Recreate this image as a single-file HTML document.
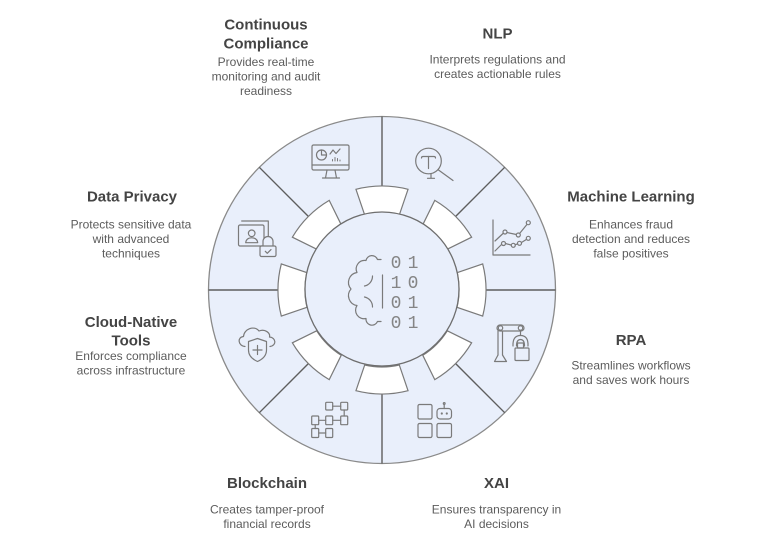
<!DOCTYPE html>
<html>
<head>
<meta charset="utf-8">
<style>
  html, body { margin:0; padding:0; background:#ffffff; }
  body { width:776px; height:548px; overflow:hidden; }
  svg { display:block; }
  .t { font-family:"Liberation Sans", Arial, sans-serif; font-weight:bold; font-size:15px; fill:#444444; }
  .d { font-family:"Liberation Sans", Arial, sans-serif; font-size:12px; fill:#5c5c5c; }
  .ic { fill:none; stroke:#7a7a7a; stroke-width:1.2; stroke-linecap:round; stroke-linejoin:round; }
  .dg { font-family:"Liberation Mono", "DejaVu Sans Mono", monospace; font-size:18px; fill:#858585; }
</style>
</head>
<body>
<svg width="776" height="548" viewBox="0 0 776 548" xmlns="http://www.w3.org/2000/svg">
  <!-- outer disc -->
  <circle cx="382" cy="290" r="173.5" fill="#e9effb" stroke="#8a8a8a" stroke-width="1.3"/>

  <!-- dividers -->
  <g stroke="#5e5e5e" stroke-width="1.4">
    <line x1="382" y1="186" x2="382" y2="116.5" transform="rotate(0 382 290)"/>
    <line x1="382" y1="186" x2="382" y2="116.5" transform="rotate(45 382 290)"/>
    <line x1="382" y1="186" x2="382" y2="116.5" transform="rotate(90 382 290)"/>
    <line x1="382" y1="186" x2="382" y2="116.5" transform="rotate(135 382 290)"/>
    <line x1="382" y1="186" x2="382" y2="116.5" transform="rotate(180 382 290)"/>
    <line x1="382" y1="186" x2="382" y2="116.5" transform="rotate(225 382 290)"/>
    <line x1="382" y1="186" x2="382" y2="116.5" transform="rotate(270 382 290)"/>
    <line x1="382" y1="186" x2="382" y2="116.5" transform="rotate(315 382 290)"/>
  </g>

  <!-- white tabs -->
  <g fill="#ffffff" stroke="#7a7a7a" stroke-width="1.2">
    <path d="M364.68 214.97 L355.96 189.31 A104 104 0 0 1 408.04 189.31 L399.32 214.97 A77 77 0 0 0 364.68 214.97 Z" transform="rotate(0 382 290)"/>
    <path d="M364.68 214.97 L355.96 189.31 A104 104 0 0 1 408.04 189.31 L399.32 214.97 A77 77 0 0 0 364.68 214.97 Z" transform="rotate(45 382 290)"/>
    <path d="M364.68 214.97 L355.96 189.31 A104 104 0 0 1 408.04 189.31 L399.32 214.97 A77 77 0 0 0 364.68 214.97 Z" transform="rotate(90 382 290)"/>
    <path d="M364.68 214.97 L355.96 189.31 A104 104 0 0 1 408.04 189.31 L399.32 214.97 A77 77 0 0 0 364.68 214.97 Z" transform="rotate(135 382 290)"/>
    <path d="M364.68 214.97 L355.96 189.31 A104 104 0 0 1 408.04 189.31 L399.32 214.97 A77 77 0 0 0 364.68 214.97 Z" transform="rotate(180 382 290)"/>
    <path d="M364.68 214.97 L355.96 189.31 A104 104 0 0 1 408.04 189.31 L399.32 214.97 A77 77 0 0 0 364.68 214.97 Z" transform="rotate(225 382 290)"/>
    <path d="M364.68 214.97 L355.96 189.31 A104 104 0 0 1 408.04 189.31 L399.32 214.97 A77 77 0 0 0 364.68 214.97 Z" transform="rotate(270 382 290)"/>
    <path d="M364.68 214.97 L355.96 189.31 A104 104 0 0 1 408.04 189.31 L399.32 214.97 A77 77 0 0 0 364.68 214.97 Z" transform="rotate(315 382 290)"/>
  </g>

  <!-- inner disc -->
  <circle cx="382" cy="289" r="77" fill="#e9effb" stroke="#6e6e6e" stroke-width="1.3"/>

  <!-- brain icon -->
  <g class="ic" stroke="#858585" stroke-width="1.3">
    <path d="M381 259.5 H377.5 A6 6 0 0 0 366 260.5 A8.5 8.5 0 0 0 357 272.5 A10 10 0 0 0 351 289 A10 10 0 0 0 357 305.5 A8.5 8.5 0 0 0 366 318.5 A6 6 0 0 0 377.5 321.5 H381"/>
    <path d="M372.5 276 A10 10 0 0 1 364.5 286"/>
    <path d="M364.5 297 A10 10 0 0 1 372.5 307"/>
    <line x1="382.5" y1="275" x2="382.5" y2="308"/>
  </g>
  <text class="dg" x="396" y="268" text-anchor="middle">0</text>
  <text class="dg" x="413" y="268" text-anchor="middle">1</text>
  <text class="dg" x="396" y="288" text-anchor="middle">1</text>
  <text class="dg" x="413" y="288" text-anchor="middle">0</text>
  <text class="dg" x="396" y="308" text-anchor="middle">0</text>
  <text class="dg" x="413" y="308" text-anchor="middle">1</text>
  <text class="dg" x="396" y="328" text-anchor="middle">0</text>
  <text class="dg" x="413" y="328" text-anchor="middle">1</text>

  <!-- Continuous Compliance icon: monitor -->
  <g class="ic">
    <rect x="312" y="145" width="37" height="25" rx="1.5"/>
    <line x1="312" y1="165" x2="349" y2="165"/>
    <path d="M327 170 L325.5 178 M335 170 L336.5 178 M322.5 178 H339.5"/>
    <circle cx="321.5" cy="155" r="5"/>
    <path d="M321.5 150 V155 H326.5"/>
    <path d="M330 154 L333 150 L336 153.5 L340 149"/>
    <path d="M332.5 161 V159.5 M335 161 V157.5 M337.5 161 V158.5 M340 161 V160" stroke-width="1"/>
  </g>

  <!-- NLP icon: magnifier with T -->
  <g class="ic">
    <circle cx="428.5" cy="161" r="12.8"/>
    <path d="M421.5 158 Q421.5 156.5 423 156.5 H434 Q435.5 156.5 435.5 158"/>
    <line x1="428.5" y1="156.5" x2="428.5" y2="168.5"/>
    <line x1="438.5" y1="170" x2="453" y2="180.5"/>
    <path d="M431 174 V178.3 M427.5 178.3 H434.5"/>
  </g>

  <!-- Machine Learning icon: line chart -->
  <g class="ic">
    <path d="M493 220 V255 H530"/>
    <path d="M495 241 L503 233.5 M507 232.5 L516.3 234.5 M520 233 L526.8 224.6"/>
    <circle cx="505" cy="232" r="2"/>
    <circle cx="518.3" cy="235" r="2"/>
    <circle cx="528.3" cy="222.7" r="2"/>
    <path d="M495 251 L501.5 244.5 M505.5 243.5 L511 245 M515 244.7 L517.5 244 M521.5 242.5 L526.3 239.5"/>
    <circle cx="503.5" cy="243.5" r="2"/>
    <circle cx="513.3" cy="245.3" r="2"/>
    <circle cx="519.5" cy="243.3" r="2"/>
    <circle cx="528.3" cy="238.3" r="2"/>
  </g>

  <!-- RPA icon: robotic arm -->
  <g class="ic">
    <path d="M498 331 V355 M502.5 331 V355"/>
    <path d="M498 355 L494.5 361.5 H506.5 L502.5 355"/>
    <rect x="497" y="325" width="27" height="6" rx="3"/>
    <circle cx="500.5" cy="328" r="2.2"/>
    <circle cx="520.5" cy="328" r="2.2"/>
    <path d="M520.5 331 V335"/>
    <path d="M513 346 Q512.5 335.5 520.5 335.5 Q528.5 335.5 528 346"/>
    <path d="M516.5 346 Q516.5 339.5 520.5 339.5 Q524.5 339.5 524.5 346"/>
    <rect x="517.5" y="343" width="6" height="5"/>
    <rect x="515" y="348" width="14" height="12.5" rx="1"/>
  </g>

  <!-- XAI icon: squares with robot -->
  <g class="ic">
    <rect x="418" y="404.5" width="14" height="14.5" rx="1.5"/>
    <rect x="437" y="408.5" width="14.5" height="10.5" rx="3"/>
    <path d="M444.2 408.5 V404.5"/>
    <circle cx="444.2" cy="403.5" r="0.9"/>
    <circle cx="441.8" cy="413.5" r="0.5" fill="#7a7a7a"/>
    <circle cx="446.8" cy="413.5" r="0.5" fill="#7a7a7a"/>
    <rect x="418" y="423.5" width="14" height="14" rx="1.5"/>
    <rect x="437" y="423.5" width="14.5" height="14" rx="1.5"/>
  </g>

  <!-- Blockchain icon: flow grid -->
  <g class="ic">
    <rect x="325.7" y="402.3" width="7" height="7.7" rx="1"/>
    <rect x="340.7" y="402.3" width="7" height="7.7" rx="1"/>
    <line x1="332.7" y1="406.2" x2="340.7" y2="406.2"/>
    <line x1="344.2" y1="410" x2="344.2" y2="416"/>
    <rect x="311.7" y="416" width="7" height="8.7" rx="1"/>
    <rect x="325.7" y="416" width="7" height="8.7" rx="1"/>
    <rect x="340.7" y="416" width="7" height="8.7" rx="1"/>
    <line x1="318.7" y1="420.3" x2="325.7" y2="420.3"/>
    <line x1="332.7" y1="420.3" x2="340.7" y2="420.3"/>
    <line x1="315.2" y1="424.7" x2="315.2" y2="428.5"/>
    <rect x="311.7" y="428.5" width="7" height="9" rx="1"/>
    <rect x="325.7" y="428.5" width="7" height="9" rx="1"/>
    <line x1="318.7" y1="433" x2="325.7" y2="433"/>
  </g>

  <!-- Cloud-Native Tools icon: cloud with shield -->
  <g class="ic">
    <path d="M245 346.5 C238 346 237 337 243.5 336.5 C244 329 254 325 259 331 C265 328.5 270.5 333 269.5 337 C276 337.5 277 345.5 270 346.5"/>
    <path d="M257.5 338.5 L266.5 341.5 V350 C266.5 356 262 359.5 257.5 361.5 C253 359.5 248.5 356 248.5 350 V341.5 Z" fill="#e9effb"/>
    <path d="M257.5 345.5 V354.5 M253 350 H262"/>
  </g>

  <!-- Data Privacy icon: id card with lock -->
  <g class="ic">
    <path d="M241.7 221 H268.3 V237"/>
    <rect x="238.5" y="225" width="25.5" height="21" rx="1.5"/>
    <circle cx="251.7" cy="233.3" r="3.3"/>
    <path d="M245.7 242.7 Q246.3 237.8 251.7 237.8 Q257.1 237.8 257.7 242.7 Z"/>
    <path d="M263 246 V241.5 A5 5 0 0 1 273 241.5 V246" fill="#e9effb"/>
    <path d="M262.5 238 A5.5 5.5 0 0 1 273.5 238" stroke="none"/>
    <rect x="260" y="246" width="16" height="10.5" rx="1.5" fill="#e9effb"/>
    <path d="M265.3 251.3 L267.3 253.3 L271 249.6"/>
  </g>

  <!-- Labels -->
  <text class="t" x="266" y="29.5" text-anchor="middle">Continuous</text>
  <text class="t" x="266" y="48.5" text-anchor="middle">Compliance</text>
  <text class="d" x="266" y="66" text-anchor="middle">Provides real-time</text>
  <text class="d" x="266" y="80.5" text-anchor="middle">monitoring and audit</text>
  <text class="d" x="266" y="95" text-anchor="middle">readiness</text>

  <text class="t" x="497.5" y="38.5" text-anchor="middle">NLP</text>
  <text class="d" x="497.5" y="63.5" text-anchor="middle">Interprets regulations and</text>
  <text class="d" x="497.5" y="78" text-anchor="middle">creates actionable rules</text>

  <text class="t" x="132" y="201.5" text-anchor="middle">Data Privacy</text>
  <text class="d" x="131" y="228.5" text-anchor="middle">Protects sensitive data</text>
  <text class="d" x="131" y="243" text-anchor="middle">with advanced</text>
  <text class="d" x="131" y="257.5" text-anchor="middle">techniques</text>

  <text class="t" x="631" y="201.5" text-anchor="middle">Machine Learning</text>
  <text class="d" x="631" y="228.5" text-anchor="middle">Enhances fraud</text>
  <text class="d" x="631" y="243" text-anchor="middle">detection and reduces</text>
  <text class="d" x="631" y="257.5" text-anchor="middle">false positives</text>

  <text class="t" x="131" y="327" text-anchor="middle">Cloud-Native</text>
  <text class="t" x="131" y="345.5" text-anchor="middle">Tools</text>
  <text class="d" x="131" y="360" text-anchor="middle">Enforces compliance</text>
  <text class="d" x="131" y="374.5" text-anchor="middle">across infrastructure</text>

  <text class="t" x="631" y="345" text-anchor="middle">RPA</text>
  <text class="d" x="631" y="369.5" text-anchor="middle">Streamlines workflows</text>
  <text class="d" x="631" y="384" text-anchor="middle">and saves work hours</text>

  <text class="t" x="267" y="488" text-anchor="middle">Blockchain</text>
  <text class="d" x="267" y="513.5" text-anchor="middle">Creates tamper-proof</text>
  <text class="d" x="267" y="528" text-anchor="middle">financial records</text>

  <text class="t" x="496.5" y="488" text-anchor="middle">XAI</text>
  <text class="d" x="496.5" y="513.5" text-anchor="middle">Ensures transparency in</text>
  <text class="d" x="496.5" y="528" text-anchor="middle">AI decisions</text>
</svg>
</body>
</html>
